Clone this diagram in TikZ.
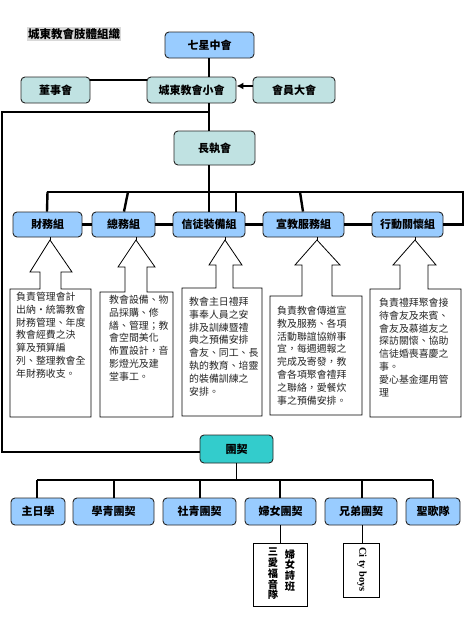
\documentclass[tikz,border=0pt]{standalone}
\usepackage{fontspec}
\setmainfont{Liberation Serif}
\newfontfamily\cjk{Noto Sans CJK TC}
\usetikzlibrary{arrows.meta}
\definecolor{boxblue}{HTML}{99CCFF}
\definecolor{boxteal}{HTML}{C0E2E2}
\definecolor{tuanqi}{HTML}{33CCCC}
\begin{document}
\begin{tikzpicture}[x=1pt,y=-1pt,
 lab/.style={draw=black!85, line width=0.9pt, rounded corners=4pt, inner sep=0pt, font=\cjk\bfseries\fontsize{11}{13}\selectfont},
 bl/.style={lab, fill=boxblue},
 tl/.style={lab, fill=boxteal},
 heavy/.style={line width=2.4pt},
 mid/.style={line width=1.8pt},
 slim/.style={line width=1.1pt},
 desc/.style={anchor=north west, inner sep=0pt, align=left, text=black!85, font=\cjk\fontsize{9.9}{12.8}\selectfont},
 callout/.style={draw, line width=0.8pt, fill=white, line join=miter},
 vbox/.style={draw, line width=0.9pt, inner sep=0pt, fill=white},
 vtext/.style={inner sep=0pt, align=center, font=\cjk\bfseries\fontsize{10.2}{10.8}\selectfont}
]
\useasboundingbox (0,0) rectangle (474,629);
\fill[white] (0,0) rectangle (474,629);

% title
\node[fill=black!15, inner sep=1pt, font=\cjk\bfseries\fontsize{11.5}{13}\selectfont] (title) at (74,34) {城東教會肢體組織};

% top level
\node[bl, minimum width=89pt, minimum height=26pt] (qx) at (209.5,45) {七星中會};
\node[tl, minimum width=89pt, minimum height=26pt] (xh) at (191.5,90) {城東教會小會};
\node[tl, minimum width=69pt, minimum height=26pt] (dsh) at (55.5,90) {董事會};
\node[tl, minimum width=82pt, minimum height=26pt] (hy) at (294,90) {會員大會};
\node[tl, minimum width=81pt, minimum height=34pt] (zx) at (214.5,148) {長執會};
\coordinate (spine) at (209,0);

\draw[mid] (spine |- qx.south) -- (spine |- xh.north);
\draw[heavy] (dsh.east |- 0,80) -- (xh.west |- 0,80);
\draw[heavy, -{Latex[length=7pt,width=7pt]}] (hy.west |- 0,86) -- (xh.east |- 0,86);
\draw[heavy] (spine |- xh.south) -- (spine |- zx.north);

% groups
\node[bl, minimum width=69pt, minimum height=25pt] (cw) at (47.5,224.5) {財務組};
\node[bl, minimum width=63pt, minimum height=25pt] (zw) at (123.5,224.5) {總務組};
\node[bl, minimum width=72pt, minimum height=25pt] (xt) at (209,224.5) {信徒裝備組};
\node[bl, minimum width=81pt, minimum height=25pt] (xj) at (303.5,224.5) {宣教服務組};
\node[bl, minimum width=71pt, minimum height=25pt] (xd) at (407.5,224.5) {行動關懷組};

\coordinate (br) at (0,192);
\draw[heavy] (47,192) -- (463,192);
\draw[heavy] (spine |- zx.south) -- (spine |- xt.north);
\draw[heavy] (cw.north |- br) -- (cw.north -| 47,0);
\draw[heavy] (128,192) -- (zw.north -| 124,0);
\draw[heavy] (236,192) -- (xt.north -| 236,0);
\draw[heavy] (300,192) -- (xj.north -| 303,0);
\draw[heavy] (463,190.8) -- (463,224.5) -- (xd.east);
\draw[heavy] (cw.east) -- (zw.west);
\draw[heavy] (zw.east) -- (xt.west);
\draw[heavy] (xt.east) -- (xj.west);
\draw[heavy] (xj.east) -- (xd.west);

% left loop line to tuanqi
\node[lab, fill=tuanqi, minimum width=73pt, minimum height=28pt] (tq) at (236.5,449) {團契};
\draw[heavy] (spine |- 0,112) -- (2,112) -- (2,452) -- (tq.west |- 0,452);

% callouts
\draw[callout] (10,417) -- (10,289) -- (40,289) -- (40,272) -- (30,272) -- (50,240) -- (72,272) -- (61,272) -- (61,289) -- (91,289) -- (91,417) -- cycle;
\draw[callout] (100,417) -- (100,292) -- (125,292) -- (125,267) -- (118,267) -- (136,240) -- (155,267) -- (147,267) -- (147,292) -- (173,292) -- (173,417) -- cycle;
\draw[callout] (182,416) -- (182,288) -- (216,288) -- (216,265) -- (209,265) -- (225,240) -- (242,265) -- (233,265) -- (233,288) -- (262,288) -- (262,416) -- cycle;
\draw[callout] (270,415) -- (270,296) -- (302,296) -- (302,265) -- (295,265) -- (317,240) -- (340,265) -- (332,265) -- (332,296) -- (362,296) -- (362,415) -- cycle;
\draw[callout] (370,417) -- (370,289) -- (400,289) -- (400,265) -- (393,265) -- (415,240) -- (436,265) -- (428,265) -- (428,289) -- (461,289) -- (461,417) -- cycle;
\draw[line width=1pt] (cw.south -| 50,0) -- (50,240);
\draw[line width=1pt] (zw.south -| 136,0) -- (136,240);
\draw[line width=1pt] (xt.south -| 225,0) -- (225,240);
\draw[line width=1pt] (xj.south -| 317,0) -- (317,240);
\draw[line width=1pt] (xd.south -| 415,0) -- (415,240);

\node[desc] (d1) at (16,292) {負責管理會計\\出納·統籌教會\\財務管理、年度\\教會經費之決\\算及預算編\\列、整理教會全\\年財務收支。};
\node[desc] (d2) at (109,295) {教會設備、物\\品採購、修\\繕、管理；教\\會空間美化\\佈置設計，音\\影燈光及建\\堂事工。};
\node[desc] (d3) at (189,297) {教會主日禮拜\\事奉人員之安\\排及訓練暨禮\\典之預備安排\\會友、同工、長\\執的教育、培靈\\的裝備訓練之\\安排。};
\node[desc] (d4) at (277,306) {負責教會傳道宣\\教及服務、各項\\活動聯誼協辦事\\宜，每週週報之\\完成及寄發，教\\會各項聚會禮拜\\之聯絡，愛餐炊\\事之預備安排。};
\node[desc] (d5) at (379,298) {負責禮拜聚會接\\待會友及來賓、\\會友及慕道友之\\探訪關懷、協助\\信徒婚喪喜慶之\\事。\\愛心基金運用管\\理};

% fellowship groups
\node[bl, minimum width=54pt, minimum height=27pt] (zr) at (38,511.5) {主日學};
\node[bl, minimum width=81pt, minimum height=27pt] (xq) at (113.5,511.5) {學青團契};
\node[bl, minimum width=73pt, minimum height=27pt] (sq) at (199.5,511.5) {社青團契};
\node[bl, minimum width=71pt, minimum height=27pt] (fn) at (280.5,511.5) {婦女團契};
\node[bl, minimum width=72pt, minimum height=27pt] (xdi) at (361,511.5) {兄弟團契};
\node[bl, minimum width=54pt, minimum height=27pt] (sg) at (433,511.5) {聖歌隊};

\draw[slim] (tq.south) -- (tq.south |- 0,480);
\draw[slim] (37,480) -- (433,480);
\foreach \n/\xx in {zr/37, xq/114, sq/200, fn/280, xdi/362, sg/433}
  \draw[slim] (\n.north -| \xx,0) -- (\xx,480);

% vertical boxes
\node[vbox, minimum width=54pt, minimum height=63pt] (vb1) at (280,574.5) {};
\node[vbox, minimum width=36pt, minimum height=54pt] (vb2) at (361,570) {};
\draw[line width=1pt] (fn.south -| 280,0) -- (vb1.north -| 280,0);
\draw[line width=1pt] (xdi.south -| 362,0) -- (vb2.north -| 362,0);
\node[vtext] (v1) at (290,570.5) {婦\\女\\詩\\班};
\node[vtext] (v2) at (273,574) {三\\愛\\福\\音\\隊};
\node[inner sep=0pt, rotate=-90, font=\bfseries\fontsize{10.5}{12}\selectfont] (v3) at (362,569.5) {Ci ty boys};
\end{tikzpicture}
\end{document}
